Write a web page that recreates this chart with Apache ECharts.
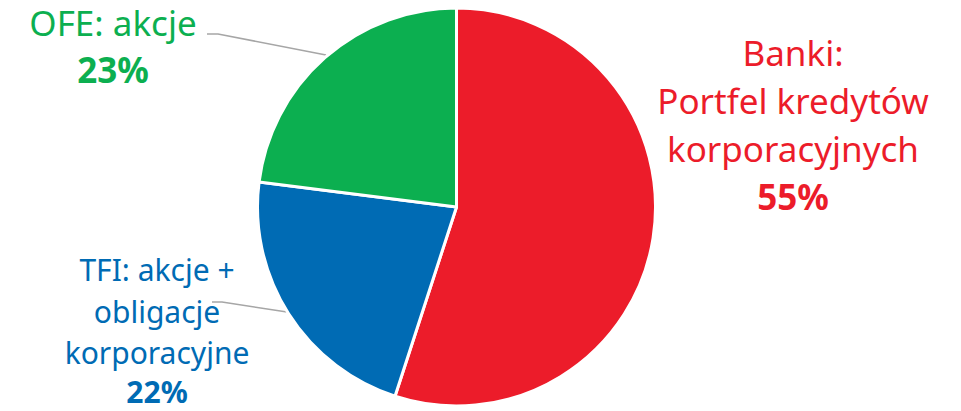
<!DOCTYPE html>
<html><head><meta charset="utf-8">
<script src="https://cdn.jsdelivr.net/npm/echarts@6/dist/echarts.min.js"></script>
<style>html,body{margin:0;padding:0;background:#fff}#c{width:961px;height:411px}</style>
</head><body><div id="c"></div>
<script>
const categories = ['Banki:\nPortfel kredytów\nkorporacyjnych', 'TFI: akcje +\nobligacje\nkorporacyjne', 'OFE: akcje'];
const values = [55, 22, 23];
const colors = ['#EC1C2A', '#006BB4', '#0CAF50'];

const FONT = 'Noto Sans';
const labelCfg = [
  {fs: 35, lh: 48, plh: 48, x: 793, y: 124, line: null},
  {fs: 30, lh: 41.5, plh: 36, x: 157, y: 329, line: [[287,312],[222,302],[212,302]]},
  {fs: 35, lh: 47, plh: 47, x: 113, y: 46, line: [[326,55],[218,34],[207,34]]}
];

const chart = echarts.init(document.getElementById('c'), null, {renderer: 'svg'});
chart.setOption({
  animation: false,
  series: [{
    type: 'pie',
    center: [456.5, 207],
    radius: 199,
    startAngle: 90,
    clockwise: true,
    itemStyle: {borderColor: '#fff', borderWidth: 3},
    labelLine: {show: true, lineStyle: {color: '#A6A6A6', width: 1.5}},
    label: {overflow: 'none'},
    labelLayout: function (p) {
      const c = labelCfg[p.dataIndex];
      const r = {x: c.x, y: c.y, align: 'center', verticalAlign: 'middle'};
      if (c.line) r.labelLinePoints = c.line;
      return r;
    },
    data: categories.map((n, i) => ({
      name: n, value: values[i],
      itemStyle: {color: colors[i]},
      label: {
        show: true,
        overflow: 'none',
        formatter: '{n|' + n + '}\n{p|' + values[i] + '%}',
        color: colors[i],
        fontFamily: FONT,
        rich: {
          n: {fontSize: labelCfg[i].fs, lineHeight: labelCfg[i].lh, color: colors[i], fontFamily: FONT, align: 'center'},
          p: {fontSize: labelCfg[i].fs, lineHeight: labelCfg[i].plh, color: colors[i], fontFamily: FONT, fontWeight: 'bold', align: 'center'}
        }
      },
      labelLine: {show: !!labelCfg[i].line}
    }))
  }]
});
</script></body></html>
